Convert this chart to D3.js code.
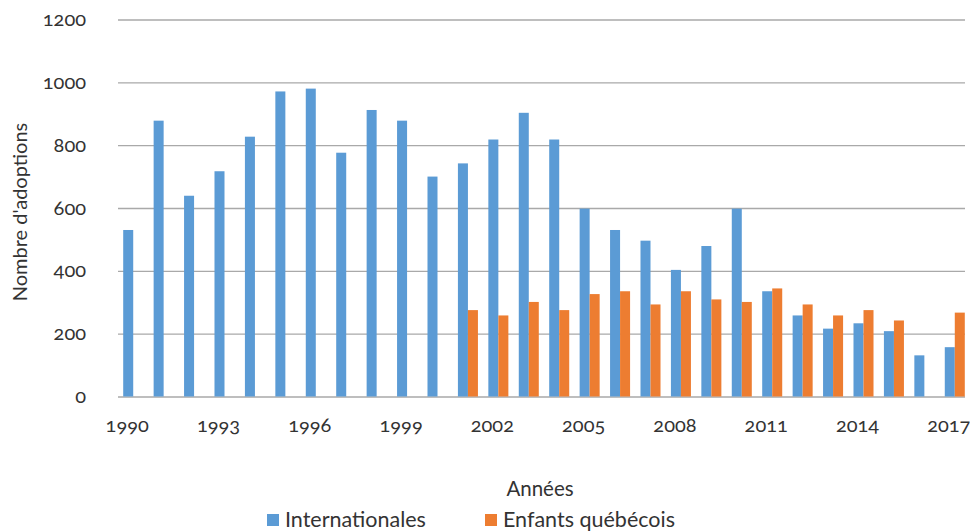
<!DOCTYPE html>
<html>
<head>
<meta charset="utf-8">
<script src="https://cdn.jsdelivr.net/npm/d3@7"></script>
<style>
  html, body { margin: 0; padding: 0; background: #fff; }
  svg text { font-family: Lato, "Open Sans", sans-serif; fill: #333; font-variant-numeric: oldstyle-nums; font-feature-settings: "onum" 1; }
</style>
</head>
<body>
<svg id="chart" width="970" height="532"></svg>
<script>
const years = [1990,1991,1992,1993,1994,1995,1996,1997,1998,1999,2000,2001,2002,2003,2004,2005,2006,2007,2008,2009,2010,2011,2012,2013,2014,2015,2016,2017];
const internationales = [530,878,639,717,827,971,980,776,912,878,700,742,818,903,818,598,530,496,403,479,598,335,258,216,233,208,131,157];
const enfantsQuebecois = [null,null,null,null,null,null,null,null,null,null,null,275,258,301,275,326,335,293,335,309,301,344,293,258,275,242,null,267];
const seriesNames = ["Internationales","Enfants québécois"];
const colors = ["#5B9BD5","#ED7D31"];
const yTicks = [0,200,400,600,800,1000,1200];
const xTickYears = [1990,1993,1996,1999,2002,2005,2008,2011,2014,2017];

(function () {
const svg = d3.select("#chart");
const mLeft = 118, mRight = 970, mTop = 19.5, mBottom = 396.5;

const x = d3.scaleBand().domain(years).range([mLeft, mRight]).paddingInner(0).paddingOuter(0);
const x1 = d3.scaleBand().domain(seriesNames).range([0, x.bandwidth()]).paddingInner(0).paddingOuter(0.52);
const y = d3.scaleLinear().domain([0,1200]).range([mBottom, mTop]);

// gridlines
const yAxis = d3.axisLeft(y).tickValues(yTicks).tickSize(-(965-mLeft)).tickFormat(d => d);
const gy = svg.append("g").attr("transform", `translate(${mLeft},0)`).call(yAxis);
gy.select(".domain").remove();
gy.selectAll(".tick line").attr("stroke", "#A9A9A9").attr("stroke-width", 1.4);
gy.selectAll(".tick text").attr("x", -32).attr("dy", "0.3em").style("font-size", "20px");

// bars
const data = years.map((yr, i) => ({year: yr, vals: [internationales[i], enfantsQuebecois[i]]}));
const groups = svg.append("g").selectAll("g").data(data).join("g")
  .attr("transform", d => `translate(${x(d.year)},0)`);
groups.selectAll("rect")
  .data(d => d.vals.map((v, k) => ({v, k})).filter(e => e.v != null))
  .join("rect")
  .attr("x", e => x1(seriesNames[e.k]))
  .attr("width", x1.bandwidth())
  .attr("y", e => y(e.v))
  .attr("height", e => y(0) - y(e.v))
  .attr("fill", e => colors[e.k]);

// x axis labels
const xAxis = d3.axisBottom(x).tickValues(xTickYears).tickSize(0).tickFormat(d => d);
const gx = svg.append("g").attr("transform", `translate(0,${mBottom})`).call(xAxis);
gx.select(".domain").remove();
gx.selectAll(".tick text").attr("dx", -6).attr("y", 35).attr("dy", "0").style("font-size", "20px");

// axis titles
svg.append("text").attr("x", 540).attr("y", 496).attr("text-anchor", "middle")
  .style("font-size", "20.5px").text("Années");
svg.append("text").attr("transform", "translate(27,212) rotate(-90)").attr("text-anchor", "middle")
  .style("font-size", "20px").text("Nombre d'adoptions");

// legend
const legendX = [267, 485];
const lg = svg.append("g").selectAll("g").data(seriesNames).join("g")
  .attr("transform", (d, i) => `translate(${legendX[i]},514)`);
lg.append("rect").attr("width", 12).attr("height", 12).attr("fill", (d, i) => colors[i]);
lg.append("text").attr("x", 18).attr("y", 13).style("font-size", "21.5px").text(d => d);
})();
</script>
</body>
</html>
